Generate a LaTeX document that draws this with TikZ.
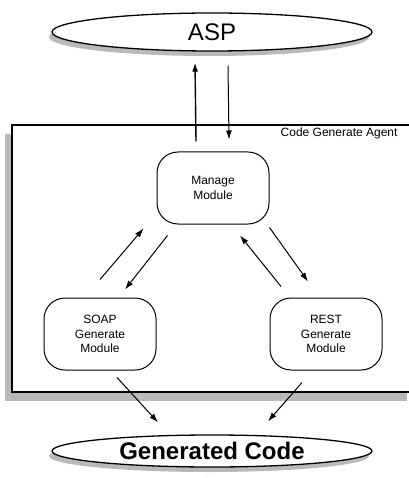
\documentclass[tikz,border=0pt]{standalone}
\usepackage{fontspec}
\setmainfont{Liberation Sans}
\usetikzlibrary{arrows.meta, positioning, shapes.geometric, shadows}

\begin{document}
\begin{tikzpicture}[x=1pt, y=-1pt,
    shade/.style={drop shadow={shadow xshift=-3pt, shadow yshift=-5pt, fill=gray!55, opacity=1}},
    outer/.style={ellipse, draw=black, line width=1.3pt, fill=white, shade,
        minimum width=320pt, inner sep=0pt, font=\fontsize{24}{28}\selectfont},
    agentbox/.style={draw=black, line width=1.1pt, fill=white,
        drop shadow={shadow xshift=-7pt, shadow yshift=-9pt, fill=gray!55, opacity=1}},
    module/.style={draw=black, line width=1pt, rounded corners=21pt, align=center,
        minimum width=112pt, minimum height=72pt, font=\fontsize{12}{14.5}\selectfont},
    flow/.style={-{Latex[length=9pt, width=6pt]}, line width=1pt}]
    \useasboundingbox (0,0) rectangle (408,478);

    % Agent frame
    \node[agentbox, minimum width=402pt, minimum height=267pt, inner sep=0pt] (agent) at (213,258.5) {};
    \node[anchor=east, font=\fontsize{12}{14}\selectfont] (agentname) at (401,133) {Code Generate Agent};

    % Outer nodes
    \node[outer, minimum height=38pt] (asp) at (212,32) {ASP};
    \node[outer, minimum height=32pt, font=\fontsize{24}{28}\selectfont\bfseries] (code) at (212,451) {Generated Code};

    % Modules
    \node[module] (manage) at (213,188) {Manage\\Module};
    \node[module] (soap) at (100,334) {SOAP\\Generate\\Module};
    \node[module] (rest) at (326,334) {REST\\Generate\\Module};

    % ASP <-> Manage
    \draw[flow, line width=1.4pt] ([shift={(-17pt,10pt)}]manage.north) -- ([shift={(-17pt,-11pt)}]asp.south);
    \draw[flow] ([shift={(16pt,-14pt)}]asp.south) -- ([shift={(16pt,12pt)}]manage.north);

    % Manage <-> generators
    \draw[flow] ([yshift=18pt]soap.north) -- ([shift={(-13pt,-4pt)}]manage.south west);
    \draw[flow] ([shift={(11pt,-11pt)}]manage.south west) -- ([shift={(25pt,8pt)}]soap.north);
    \draw[flow] ([shift={(-45pt,11pt)}]rest.north) -- ([shift={(27pt,-11pt)}]manage.south);
    \draw[flow] ([yshift=-3pt]manage.south east) -- ([shift={(-18pt,16pt)}]rest.north);

    % Generators -> code
    \draw[flow] ([shift={(17pt,-7pt)}]soap.south) -- ([shift={(-54pt,12pt)}]code.north);
    \draw[flow] ([shift={(-24pt,-12pt)}]rest.south) -- ([shift={(56pt,13pt)}]code.north);
\end{tikzpicture}
\end{document}
